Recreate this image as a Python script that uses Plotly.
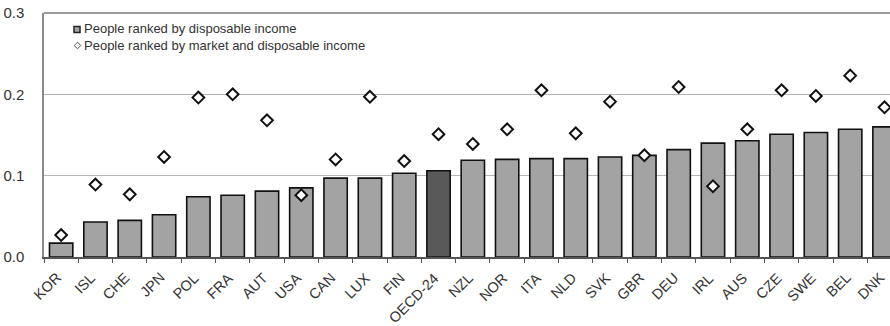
import plotly.graph_objects as go

countries = ["KOR", "ISL", "CHE", "JPN", "POL", "FRA", "AUT", "USA", "CAN", "LUX", "FIN", "OECD-24",
             "NZL", "NOR", "ITA", "NLD", "SVK", "GBR", "DEU", "IRL", "AUS", "CZE", "SWE", "BEL", "DNK"]
disposable = [0.017, 0.043, 0.045, 0.052, 0.074, 0.076, 0.081, 0.085, 0.097, 0.097, 0.103, 0.106,
              0.119, 0.120, 0.121, 0.121, 0.123, 0.125, 0.132, 0.140, 0.143, 0.151, 0.153, 0.157, 0.160]
market_disp = [0.027, 0.089, 0.077, 0.123, 0.196, 0.200, 0.168, 0.076, 0.120, 0.197, 0.118, 0.151,
               0.139, 0.157, 0.205, 0.152, 0.191, 0.125, 0.209, 0.087, 0.157, 0.205, 0.198, 0.223, 0.184]

legend_names = ["People ranked by disposable income",
                "People ranked by market and disposable income"]
y_ticks = [0, 0.1, 0.2, 0.3]

bar_colors = ["#595959" if c == "OECD-24" else "#a3a3a3" for c in countries]

W, H = 890, 326
ML, MR, MT, MB = 44, 0, 13, 69
PW, PH = W - ML - MR, H - MT - MB


def px(xp):
    return (xp - ML) / PW


def py(yp):
    return (H - MB - yp) / PH


fig = go.Figure()
fig.add_trace(go.Bar(
    x=countries, y=disposable, name=legend_names[0],
    marker=dict(color=bar_colors, line=dict(color="#111111", width=1.6)),
    showlegend=False,
))
fig.add_trace(go.Scatter(
    x=countries, y=market_disp, mode="markers", name=legend_names[1],
    marker=dict(symbol="diamond", size=9, color="white", line=dict(color="#111111", width=2)),
    showlegend=False,
))

# frame top line
fig.add_shape(type="line", xref="paper", yref="paper", x0=0, x1=1, y0=1, y1=1,
              line=dict(color="#999999", width=2))

# legend keys (drawn as shapes) and texts
fig.add_shape(type="rect", xref="paper", yref="paper",
              x0=px(74), x1=px(80), y0=py(32.5), y1=py(26.5),
              fillcolor="#a3a3a3", line=dict(color="#222222", width=1.5))
cx, cy = px(77.5), py(45.5)
dx, dy = 3.3 / PW, 3.3 / PH
fig.add_shape(type="path", xref="paper", yref="paper",
              path=f"M {cx - dx} {cy} L {cx} {cy + dy} L {cx + dx} {cy} L {cx} {cy - dy} Z",
              fillcolor="white", line=dict(color="#555555", width=1))
for name, yy in zip(legend_names, [29, 45.5]):
    fig.add_annotation(text=name, xref="paper", yref="paper", x=px(82), y=py(yy),
                       xanchor="left", yanchor="middle", showarrow=False,
                       font=dict(size=13, color="#333333"))

# rotated category labels
for c in countries:
    fig.add_annotation(text=c, x=c, y=0, xref="x", yref="y", textangle=-45,
                       xanchor="right", yanchor="top", showarrow=False,
                       xshift=6, yshift=-10, font=dict(size=14.5, color="#333333"))

fig.update_layout(
    width=W, height=H,
    margin=dict(l=ML, r=MR, t=MT, b=MB, autoexpand=False),
    paper_bgcolor="white", plot_bgcolor="white",
    font=dict(family="Liberation Sans, Arial, sans-serif", color="#333333", size=15),
    bargap=0.32,
    showlegend=False,
    xaxis=dict(
        range=[-0.5, 24.16], type="category", automargin=False,
        showline=True, linecolor="#555555", linewidth=1.5,
        ticks="outside", tickson="boundaries", ticklen=4, tickcolor="#555555", tickwidth=1,
        showticklabels=False, showgrid=False,
    ),
    yaxis=dict(
        range=[0, 0.3], tickvals=y_ticks, tickformat=".1f", automargin=False,
        showline=True, linecolor="#888888", linewidth=1.5,
        showgrid=True, gridcolor="#b5b5b5", gridwidth=1, zeroline=False,
        ticks="", ticklabelstandoff=15, tickfont=dict(size=15, color="#333333"),
    ),
)

fig.write_html("out.html", config={"displayModeBar": False},
               post_script="document.body.style.margin='0px';document.body.style.overflow='hidden';")
